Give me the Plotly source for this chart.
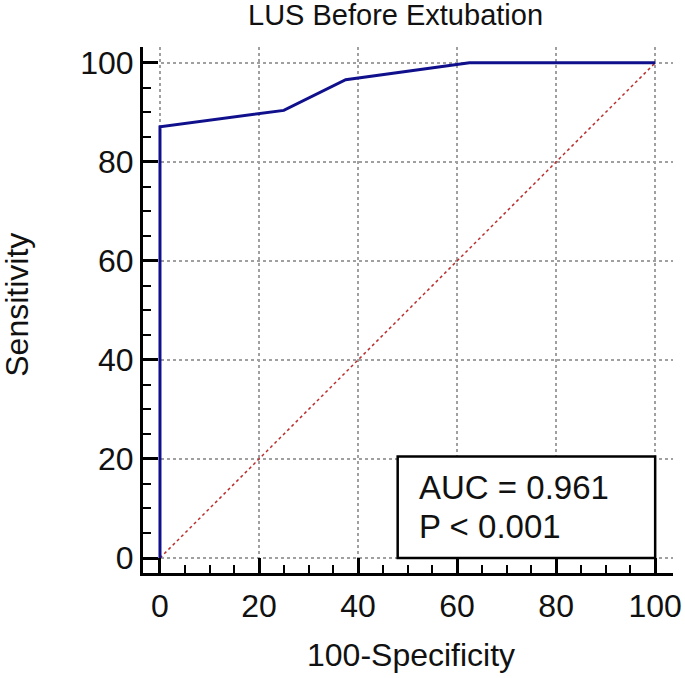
import plotly.graph_objects as go

# Data
fpr = [0, 0, 25, 37.5, 62.5, 100]          # 100-Specificity
sensitivity = [0, 87.1, 90.4, 96.6, 100, 100]
diag_x = [0, 100]
diag_y = [0, 100]
tick_vals = [0, 20, 40, 60, 80, 100]
tick_text = ["0", "20", "40", "60", "80", "100"]
auc_text = "AUC = 0.961"
p_text = "P < 0.001"
title_text = "LUS Before Extubation"
x_title = "100-Specificity"
y_title = "Sensitivity"

FONT = "Liberation Sans, Arial, sans-serif"

fig = go.Figure()
fig.add_trace(go.Scatter(x=diag_x, y=diag_y, mode="lines",
                         line=dict(color="rgb(185,45,45)", width=1.5, dash="dot"),
                         hoverinfo="skip", showlegend=False))
fig.add_trace(go.Scatter(x=fpr, y=sensitivity, mode="lines",
                         line=dict(color="#10108c", width=3),
                         showlegend=False))

axis_common = dict(
    showline=True, linecolor="black", linewidth=3,
    ticks="inside", ticklen=15, tickwidth=2.5, tickcolor="black",
    tickvals=tick_vals, ticktext=tick_text,
    tickfont=dict(family=FONT, size=32, color="#111"),
    showgrid=True, gridcolor="#a0a0a0", gridwidth=1.5, griddash="dot",
    zeroline=False, mirror=False, automargin=False,
    minor=dict(ticks="inside", ticklen=8, tickwidth=2, tickcolor="black",
               dtick=5, showgrid=False),
)

fig.update_xaxes(range=[-3.43, 103.6], ticklabelstandoff=3, **axis_common)
fig.update_yaxes(range=[-3.03, 103.2], **axis_common)

# AUC box
fig.add_shape(type="rect", xref="x", yref="y", x0=48, x1=100, y0=0, y1=20.5,
              line=dict(color="black", width=2.5), fillcolor="white", layer="above")
fig.add_annotation(xref="x", yref="y", x=52, y=14.3, xanchor="left", yanchor="middle",
                   text=auc_text, align="left", showarrow=False,
                   font=dict(family=FONT, size=33, color="#111"))
fig.add_annotation(xref="x", yref="y", x=52, y=6.3, xanchor="left", yanchor="middle",
                   text=p_text, align="left", showarrow=False,
                   font=dict(family=FONT, size=33, color="#111"))

# Titles
fig.add_annotation(xref="paper", yref="paper", x=0.477, y=1.061, text=title_text,
                   showarrow=False, xanchor="center", yanchor="middle",
                   font=dict(family=FONT, size=29, color="#111"))
fig.add_annotation(xref="paper", yref="paper", x=0.506, y=-0.156, text=x_title,
                   showarrow=False, xanchor="center", yanchor="middle",
                   font=dict(family=FONT, size=32, color="#111"))
fig.add_annotation(xref="paper", yref="paper", x=-0.2377, y=0.51, text=y_title,
                   textangle=-90, showarrow=False, xanchor="center", yanchor="middle",
                   font=dict(family=FONT, size=32, color="#111"))

fig.update_layout(
    width=685, height=678,
    margin=dict(l=143, r=12, t=47, b=105),
    plot_bgcolor="white", paper_bgcolor="white",
    showlegend=False,
)

# remove the browser's default 8px body margin so the figure fills the window
fig.write_html("out.html",
               config={"displayModeBar": False},
               post_script="document.body.style.margin='0';document.body.style.padding='0';")
